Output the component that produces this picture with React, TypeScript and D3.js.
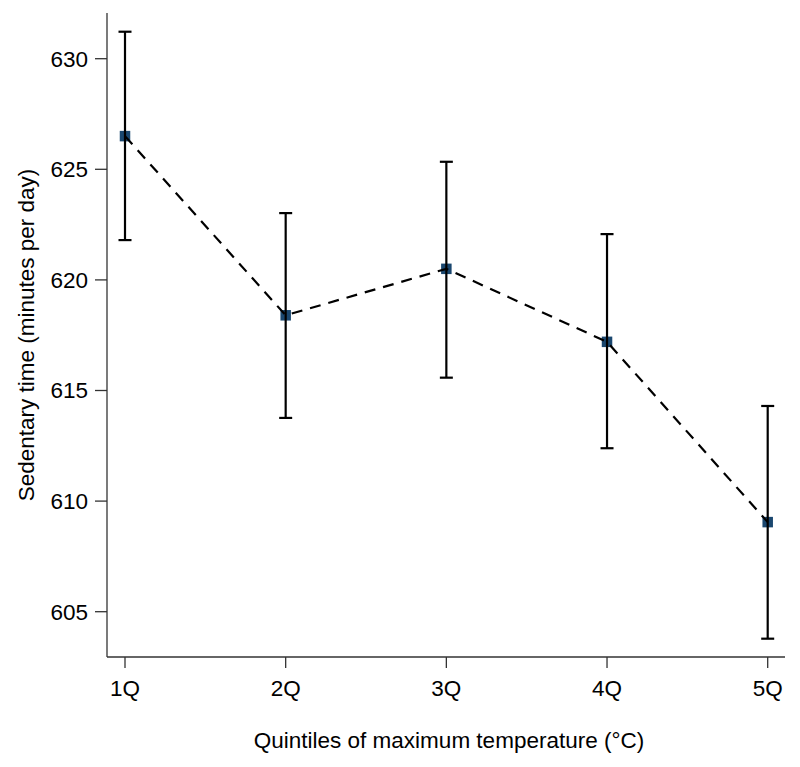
import React from "react";
import * as d3 from "d3";

const categories = ["1Q", "2Q", "3Q", "4Q", "5Q"];
const means = [626.5, 618.4, 620.5, 617.2, 609.05];
const lower = [621.8, 613.76, 615.58, 612.39, 603.78];
const upper = [631.22, 623.02, 625.34, 622.07, 614.3];
const yTicks = [605, 610, 615, 620, 625, 630];

const FONT = "'Liberation Sans', Arial, Helvetica, sans-serif";

export default function App() {
  const W = 800;
  const H = 767;
  const axisX = 107;
  const axisTop = 13;
  const axisBottom = 657;
  const axisRight = 785;
  const fs = 22.5;

  const x = d3.scalePoint<string>().domain(categories).range([125, 767.7]).padding(0);
  const y = d3.scaleLinear().domain([605, 630]).range([611.7, 58.7]);

  const data = categories.map((c, i) => ({ c, m: means[i], lo: lower[i], hi: upper[i] }));
  const line = d3
    .line<{ c: string; m: number }>()
    .x((d) => x(d.c) as number)
    .y((d) => y(d.m));

  const axisColor = "#333";
  const ms = 10.5;
  const cap = 6.5;

  return (
    <svg
      width={W}
      height={H}
      style={{ position: "absolute", left: 0, top: 0, background: "#fff" }}
      fontFamily={FONT}
    >
      <rect x={0} y={0} width={W} height={H} fill="#fff" />
      {/* axes */}
      <line x1={axisX} x2={axisX} y1={axisTop} y2={axisBottom} stroke={axisColor} strokeWidth={1.3} />
      <line x1={axisX} x2={axisRight} y1={axisBottom} y2={axisBottom} stroke={axisColor} strokeWidth={1.3} />
      {yTicks.map((t) => (
        <g key={t}>
          <line x1={axisX - 12} x2={axisX} y1={y(t)} y2={y(t)} stroke={axisColor} strokeWidth={1.3} />
          <text x={88} y={y(t)} dy="0.35em" textAnchor="end" fontSize={fs} fill="#000">
            {t}
          </text>
        </g>
      ))}
      {categories.map((c) => (
        <g key={c}>
          <line x1={x(c)} x2={x(c)} y1={axisBottom} y2={axisBottom + 11} stroke={axisColor} strokeWidth={1.3} />
          <text x={x(c)} y={688} dy="0.35em" textAnchor="middle" fontSize={fs} fill="#000">
            {c}
          </text>
        </g>
      ))}
      <text x={(axisX + axisRight) / 2 + 3} y={740} dy="0.35em" textAnchor="middle" fontSize={fs} fill="#000">
        Quintiles of maximum temperature (°C)
      </text>
      <text
        transform={`translate(26, ${(axisTop + axisBottom) / 2}) rotate(-90)`}
        dy="0.35em"
        textAnchor="middle"
        fontSize={fs}
        fill="#000"
      >
        Sedentary time (minutes per day)
      </text>

      {/* markers */}
      {data.map((d) => (
        <rect
          key={"m" + d.c}
          x={(x(d.c) as number) - ms / 2}
          y={y(d.m) - ms / 2}
          width={ms}
          height={ms}
          fill="#1a476f"
        />
      ))}
      {/* dashed connecting line */}
      <path d={line(data) || ""} fill="none" stroke="#000" strokeWidth={2.2} strokeDasharray="11,8" />
      {/* error bars */}
      {data.map((d) => {
        const cx = x(d.c) as number;
        return (
          <g key={"e" + d.c} stroke="#000" strokeWidth={2.2}>
            <line x1={cx} x2={cx} y1={y(d.hi)} y2={y(d.lo)} />
            <line x1={cx - cap} x2={cx + cap} y1={y(d.hi)} y2={y(d.hi)} />
            <line x1={cx - cap} x2={cx + cap} y1={y(d.lo)} y2={y(d.lo)} />
          </g>
        );
      })}
    </svg>
  );
}
